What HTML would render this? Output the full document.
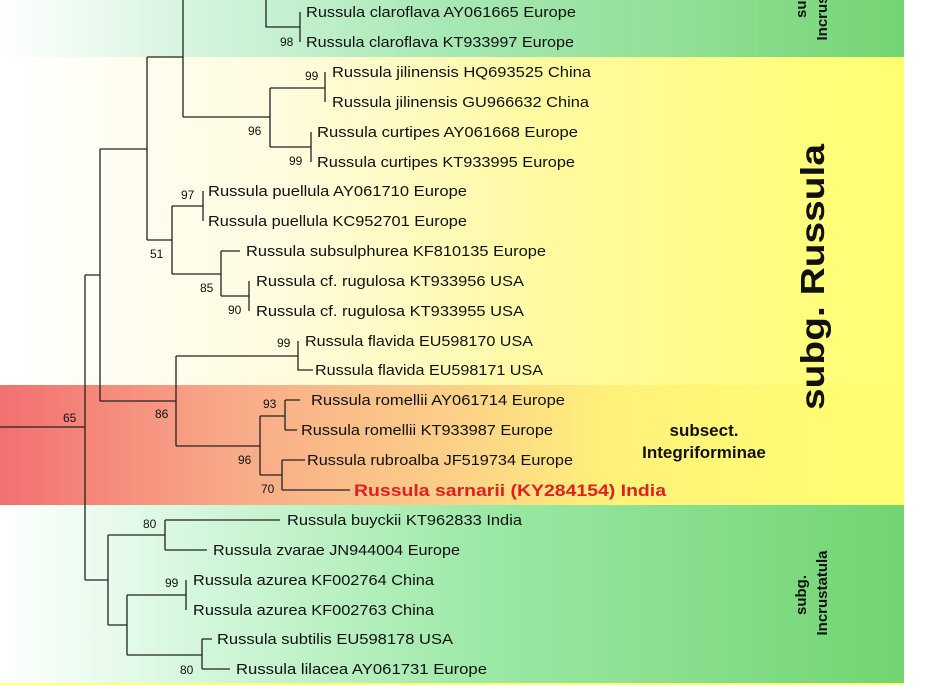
<!DOCTYPE html>
<html><head><meta charset="utf-8"><style>
html,body{margin:0;padding:0;background:#fff;}
svg{display:block;}
text{font-family:"Liberation Sans",Arial,sans-serif;}
</style></head><body>
<svg width="932" height="685" viewBox="0 0 932 685" xmlns="http://www.w3.org/2000/svg">
<defs>
<linearGradient id="gTop" x1="0" x2="904" y1="0" y2="0" gradientUnits="userSpaceOnUse">
<stop offset="0" stop-color="#ffffff"/><stop offset="0.2" stop-color="#d8f5e0"/><stop offset="0.5" stop-color="#a6e8b4"/><stop offset="0.75" stop-color="#92e096"/><stop offset="1" stop-color="#74d474"/></linearGradient>
<linearGradient id="gYel" x1="0" x2="904" y1="0" y2="0" gradientUnits="userSpaceOnUse">
<stop offset="0" stop-color="#ffffff"/><stop offset="0.3" stop-color="#fffbe0"/><stop offset="0.6" stop-color="#fffaa0"/><stop offset="1" stop-color="#ffff70"/></linearGradient>
<linearGradient id="gRed" x1="0" x2="904" y1="0" y2="0" gradientUnits="userSpaceOnUse">
<stop offset="0" stop-color="#f27070"/><stop offset="0.25" stop-color="#f8a888"/><stop offset="0.5" stop-color="#fcd088"/><stop offset="0.68" stop-color="#fff27a"/><stop offset="1" stop-color="#ffff70"/></linearGradient>
<linearGradient id="gBot" x1="0" x2="904" y1="0" y2="0" gradientUnits="userSpaceOnUse">
<stop offset="0" stop-color="#ffffff"/><stop offset="0.22" stop-color="#d4f7dc"/><stop offset="0.55" stop-color="#9ae8a4"/><stop offset="1" stop-color="#72d472"/></linearGradient>
</defs>
<rect x="0" y="0" width="904" height="57" fill="url(#gTop)"/>
<rect x="0" y="57" width="904" height="328" fill="url(#gYel)"/>
<rect x="0" y="385" width="904" height="120" fill="url(#gRed)"/>
<rect x="0" y="505" width="904" height="178" fill="url(#gBot)"/>
<rect x="0" y="683" width="904" height="2" fill="#ffff90"/>

<g stroke="#222" stroke-width="1.3" fill="none">
<path d="M0 427H85M85 275V580M85 275H100M85 580H108"/>
<path d="M100 149V401M100 149H147M100 401H176"/>
<path d="M147 57V240M147 57H183M147 240H172"/>
<path d="M183 0V117M183 117H270"/>
<path d="M266 0V27H300M300 12V42"/>
<path d="M270 88V147M270 88H325M325 72V102M270 147H311M311 132V162"/>
<path d="M172 206V274M172 206H203M203 191V221M172 274H221"/>
<path d="M221 251V296M221 251H240M221 296H249M249 281V311"/>
<path d="M176 356V446M176 356H298M298 341V370H313"/>
<path d="M176 446H260M260 416V475M260 416H285M285 400V430M285 400H300M285 430H297"/>
<path d="M260 475H282M282 460V490M282 460H305M282 490H350"/>
<path d="M108 535V625M108 535H165M165 520V550M165 520H280M165 550H207"/>
<path d="M108 625H127M127 595V655M127 595H186M186 580V610M127 655H202M202 639V669M202 639H212M202 669H230"/>
</g>

<g font-size="15" fill="#111">
<text x="306" y="17" textLength="270" lengthAdjust="spacingAndGlyphs">Russula claroflava AY061665 Europe</text>
<text x="306" y="47" textLength="268" lengthAdjust="spacingAndGlyphs">Russula claroflava KT933997 Europe</text>
<text x="332" y="77" textLength="259" lengthAdjust="spacingAndGlyphs">Russula jilinensis HQ693525 China</text>
<text x="332" y="107" textLength="257" lengthAdjust="spacingAndGlyphs">Russula jilinensis GU966632 China</text>
<text x="317" y="137" textLength="261" lengthAdjust="spacingAndGlyphs">Russula curtipes AY061668 Europe</text>
<text x="317" y="167" textLength="258" lengthAdjust="spacingAndGlyphs">Russula curtipes KT933995 Europe</text>
<text x="208" y="196" textLength="259" lengthAdjust="spacingAndGlyphs">Russula puellula AY061710 Europe</text>
<text x="208" y="226" textLength="259" lengthAdjust="spacingAndGlyphs">Russula puellula KC952701 Europe</text>
<text x="246" y="256" textLength="300" lengthAdjust="spacingAndGlyphs">Russula subsulphurea KF810135 Europe</text>
<text x="256" y="286" textLength="268" lengthAdjust="spacingAndGlyphs">Russula cf. rugulosa KT933956 USA</text>
<text x="256" y="316" textLength="268" lengthAdjust="spacingAndGlyphs">Russula cf. rugulosa KT933955 USA</text>
<text x="305" y="346" textLength="228" lengthAdjust="spacingAndGlyphs">Russula flavida EU598170 USA</text>
<text x="315" y="375" textLength="228" lengthAdjust="spacingAndGlyphs">Russula flavida EU598171 USA</text>
<text x="311" y="405" textLength="254" lengthAdjust="spacingAndGlyphs">Russula romellii AY061714 Europe</text>
<text x="301" y="435" textLength="252" lengthAdjust="spacingAndGlyphs">Russula romellii KT933987 Europe</text>
<text x="307" y="465" textLength="266" lengthAdjust="spacingAndGlyphs">Russula rubroalba JF519734 Europe</text>
<text x="287" y="525" textLength="235" lengthAdjust="spacingAndGlyphs">Russula buyckii KT962833 India</text>
<text x="213" y="555" textLength="247" lengthAdjust="spacingAndGlyphs">Russula zvarae JN944004 Europe</text>
<text x="193" y="585" textLength="241" lengthAdjust="spacingAndGlyphs">Russula azurea KF002764 China</text>
<text x="193" y="615" textLength="241" lengthAdjust="spacingAndGlyphs">Russula azurea KF002763 China</text>
<text x="217" y="644" textLength="236" lengthAdjust="spacingAndGlyphs">Russula subtilis EU598178 USA</text>
<text x="236" y="674" textLength="251" lengthAdjust="spacingAndGlyphs">Russula lilacea AY061731 Europe</text>
</g>
<text x="354" y="496" font-size="17" font-weight="bold" fill="#e02020" textLength="312" lengthAdjust="spacingAndGlyphs">Russula sarnarii (KY284154) India</text>

<g font-size="12" fill="#111">
<text x="63" y="422">65</text>
<text x="155" y="418">86</text>
<text x="150" y="258">51</text>
<text x="280" y="46">98</text>
<text x="248" y="135">96</text>
<text x="305" y="80">99</text>
<text x="289" y="165">99</text>
<text x="181" y="199">97</text>
<text x="200" y="292">85</text>
<text x="228" y="314">90</text>
<text x="277" y="347">99</text>
<text x="263" y="408">93</text>
<text x="238" y="464">96</text>
<text x="261" y="493">70</text>
<text x="143" y="528">80</text>
<text x="165" y="587">99</text>
<text x="180" y="674">80</text>
</g>

<g font-weight="bold" fill="#111" text-anchor="middle">
<text x="704" y="436" font-size="17">subsect.</text>
<text x="704" y="458" font-size="17">Integriforminae</text>
<text transform="translate(824,277) rotate(-90)" font-size="33" textLength="266" lengthAdjust="spacingAndGlyphs">subg. Russula</text>
<text transform="translate(806,595) rotate(-90)" font-size="15">subg.</text>
<text transform="translate(827,593) rotate(-90)" font-size="15">Incrustatula</text>
<text transform="translate(806,-2) rotate(-90)" font-size="15">subg.</text>
<text transform="translate(827,-2) rotate(-90)" font-size="15">Incrustatula</text>
</g>
</svg>
</body></html>
